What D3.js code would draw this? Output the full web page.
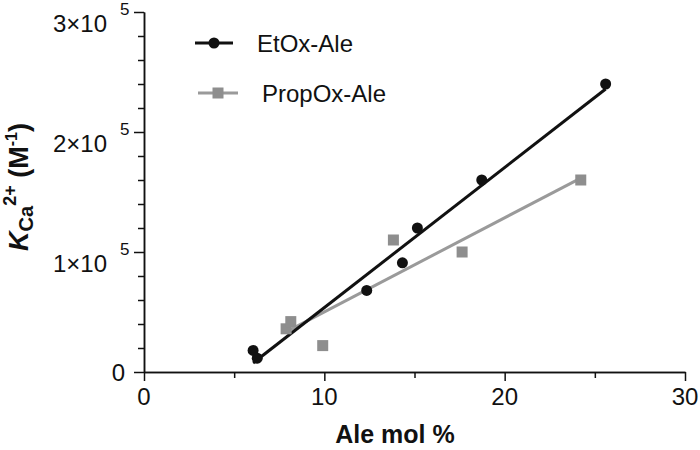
<!DOCTYPE html>
<html>
<head>
<meta charset="utf-8">
<script src="https://cdn.jsdelivr.net/npm/d3@7"></script>
<style>
  body { margin: 0; background: #fff; }
  text { font-family: "Liberation Sans", Arial, sans-serif; fill: #111; }
</style>
</head>
<body>
<div id="chart"></div>
<script>
// EtOx-Ale (black circles)
var etoxMol = [6.05, 6.28, 12.35, 14.33, 15.16, 18.73, 25.6];
var etoxK   = [18000, 11500, 68000, 91000, 120000, 160000, 240000];
// PropOx-Ale (grey squares)
var propMol = [7.88, 8.14, 9.91, 13.83, 17.64, 24.22];
var propK   = [36000, 42000, 22000, 110000, 100000, 160000];

var seriesNames = ["EtOx-Ale", "PropOx-Ale"];
var xMajor = [0, 10, 20, 30];
var xMinor = [5, 15, 25];
var yMajor = [0, 100000, 200000, 300000];
var yMajorMant = ["0", "1×10", "2×10", "3×10"];
var yMinor = d3.range(20000, 300000, 20000).filter(function(v) { return v % 100000 !== 0; });

var W = 700, H = 450;
var black = "#111", grey = "#8e8e8e";

var svg = d3.select("#chart").append("svg")
  .attr("width", W).attr("height", H);

var x = d3.scaleLinear().domain([0, 30]).range([144, 685]);
var y = d3.scaleLinear().domain([0, 300000]).range([372, 12]);

// least squares fit, drawn from first to last x of the series
function fit(xs, ys) {
  var mx = d3.mean(xs), my = d3.mean(ys), sxx = 0, sxy = 0;
  for (var i = 0; i < xs.length; i++) {
    sxx += (xs[i] - mx) * (xs[i] - mx);
    sxy += (xs[i] - mx) * (ys[i] - my);
  }
  var b = sxy / sxx, a = my - b * mx;
  var x0 = d3.min(xs), x1 = d3.max(xs);
  return [[x0, a + b * x0], [x1, a + b * x1]];
}

// axes
function styleAxis(g) {
  g.select(".domain").attr("stroke", black).attr("stroke-width", 1.5);
  g.selectAll(".tick line").attr("stroke", black).attr("stroke-width", 1.5);
  g.selectAll(".tick text").remove();
}

svg.append("g").attr("transform", "translate(0,372)")
  .call(d3.axisBottom(x).tickValues(xMinor).tickSize(6).tickSizeOuter(0))
  .call(styleAxis);
svg.append("g").attr("transform", "translate(0,372)")
  .call(d3.axisBottom(x).tickValues(xMajor).tickSize(9).tickSizeOuter(0))
  .call(styleAxis);
svg.append("g").attr("transform", "translate(144,0)")
  .call(d3.axisLeft(y).tickValues(yMinor).tickSize(6).tickSizeOuter(0))
  .call(styleAxis);
svg.append("g").attr("transform", "translate(144,0)")
  .call(d3.axisLeft(y).tickValues(yMajor).tickSize(10).tickSizeOuter(0))
  .call(styleAxis);

// x tick labels
svg.selectAll(".xlab").data(xMajor).enter().append("text")
  .attr("class", "xlab")
  .attr("x", function(d) { return x(d); })
  .attr("y", 405)
  .attr("text-anchor", "middle")
  .style("font-size", "24px")
  .text(function(d) { return d; });

// y tick labels
yMajor.forEach(function(v, i) {
  if (v === 0) {
    svg.append("text").attr("x", 125).attr("y", y(v) + 8.5)
      .attr("text-anchor", "end").style("font-size", "24px").text("0");
    return;
  }
  svg.append("text").attr("x", 107).attr("y", y(v) + 20)
    .attr("text-anchor", "end").style("font-size", "24px").text(yMajorMant[i]);
  svg.append("text").attr("x", 120).attr("y", y(v) + 3)
    .style("font-size", "17px").text("5");
});

// axis titles
svg.append("text")
  .attr("x", 395).attr("y", 443)
  .attr("text-anchor", "middle")
  .style("font-size", "25px").style("font-weight", "bold")
  .text("Ale mol %");

var yt = svg.append("text")
  .attr("transform", "translate(28,187) rotate(-90)")
  .attr("text-anchor", "middle")
  .style("font-size", "27px").style("font-weight", "bold");
yt.append("tspan").style("font-style", "italic").text("K");
yt.append("tspan").attr("dy", 5).style("font-size", "20px").text("Ca");
yt.append("tspan").attr("dy", -17).style("font-size", "18px").text("2+");
yt.append("tspan").attr("dy", 12).text(" (M");
yt.append("tspan").attr("dy", -11).style("font-size", "16px").text("-1");
yt.append("tspan").attr("dy", 11).text(")");

// fit lines
var line = d3.line()
  .x(function(d) { return x(d[0]); })
  .y(function(d) { return y(d[1]); });

svg.append("path").datum(fit(propMol, propK))
  .attr("d", line).attr("fill", "none")
  .attr("stroke", "#9a9a9a").attr("stroke-width", 3);
svg.append("path").datum(fit(etoxMol, etoxK))
  .attr("d", line).attr("fill", "none")
  .attr("stroke", black).attr("stroke-width", 3);

// points
var s = 11;
svg.selectAll(".sq").data(d3.zip(propMol, propK)).enter().append("rect")
  .attr("class", "sq")
  .attr("x", function(d) { return x(d[0]) - s / 2; })
  .attr("y", function(d) { return y(d[1]) - s / 2; })
  .attr("width", s).attr("height", s)
  .attr("fill", grey);

svg.selectAll(".dot").data(d3.zip(etoxMol, etoxK)).enter().append("circle")
  .attr("class", "dot")
  .attr("cx", function(d) { return x(d[0]); })
  .attr("cy", function(d) { return y(d[1]); })
  .attr("r", 5.5)
  .attr("fill", black);

// legend
var leg = svg.append("g");
leg.append("line").attr("x1", 195).attr("x2", 233).attr("y1", 43).attr("y2", 43)
  .attr("stroke", black).attr("stroke-width", 3);
leg.append("circle").attr("cx", 214).attr("cy", 43).attr("r", 5.5).attr("fill", black);
leg.append("text").attr("x", 257).attr("y", 52).style("font-size", "24px").text(seriesNames[0]);

leg.append("line").attr("x1", 198).attr("x2", 238).attr("y1", 93).attr("y2", 93)
  .attr("stroke", "#9a9a9a").attr("stroke-width", 3);
leg.append("rect").attr("x", 218 - s / 2).attr("y", 93 - s / 2)
  .attr("width", s).attr("height", s).attr("fill", grey);
leg.append("text").attr("x", 262).attr("y", 102).style("font-size", "24px").text(seriesNames[1]);
</script>
</body>
</html>
